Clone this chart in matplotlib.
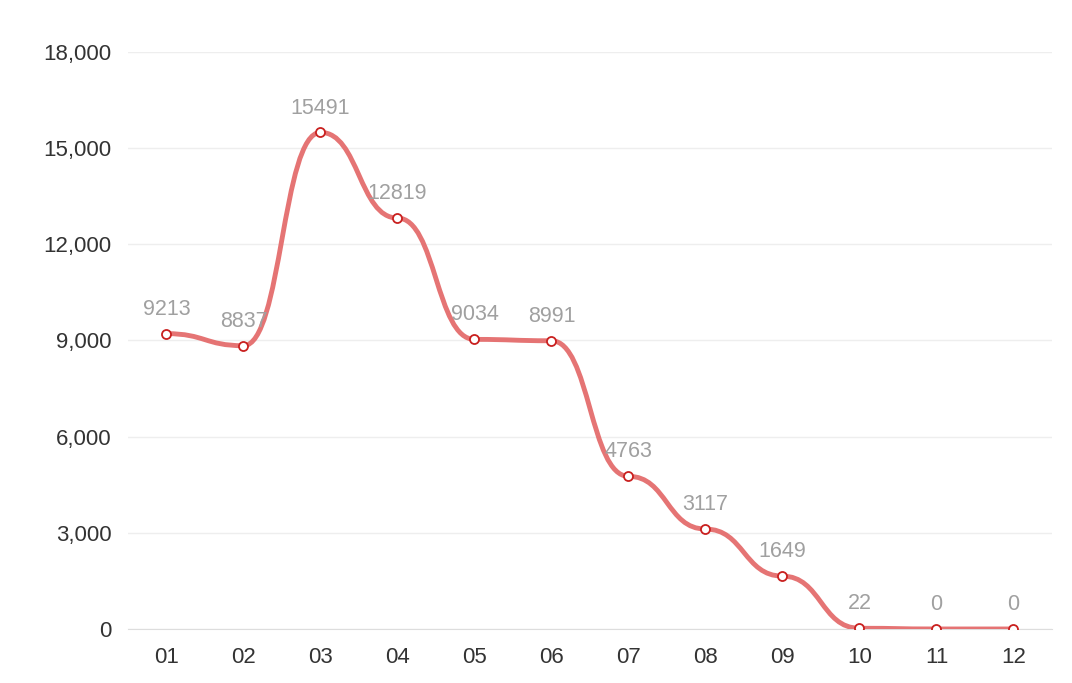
import numpy as np
import matplotlib
matplotlib.use('Agg')
import matplotlib.pyplot as plt
from matplotlib.path import Path
from matplotlib.patches import PathPatch
from matplotlib.ticker import FuncFormatter

plt.rcParams['font.family'] = ['Liberation Sans', 'DejaVu Sans']

months = ['01', '02', '03', '04', '05', '06', '07', '08', '09', '10', '11', '12']
values = [9213, 8837, 15491, 12819, 9034, 8991, 4763, 3117, 1649, 22, 0, 0]

fig = plt.figure(figsize=(10.72, 6.83), dpi=100)
ax = fig.add_axes([0.1194, 0.0791, 0.8619, 0.8448])

x = np.arange(len(values), dtype=float)
y = np.array(values, dtype=float)

ax.set_xlim(-0.5, len(values) - 0.5)
ax.set_ylim(0, 18000)

# smooth curve with horizontal tangents at each point (monotone in x)
smooth = 0.5
n = len(x)
verts = [(x[0], y[0])]
codes = [Path.MOVETO]
for i in range(n - 1):
    dx = x[i + 1] - x[i]
    c1 = (x[i] + dx * smooth, y[i])
    c2 = (x[i + 1] - dx * smooth, y[i + 1])
    verts += [c1, c2, (x[i + 1], y[i + 1])]
    codes += [Path.CURVE4] * 3
ax.add_patch(PathPatch(Path(verts, codes), facecolor='none',
                       edgecolor='#e46c6c', lw=3.5, alpha=0.95, zorder=3,
                       capstyle='round', joinstyle='round'))

ax.plot(x, y, ls='none', marker='o', ms=6.5, mfc='white', mec='#c9201f',
        mew=1.3, zorder=4)

for xi, yi in zip(x, values):
    ax.annotate(str(yi), (xi, yi), xytext=(0, 10), textcoords='offset points',
                ha='center', va='bottom', fontsize=15.5, color='#a0a0a0')

ax.set_yticks(np.arange(0, 18001, 3000))
ax.yaxis.set_major_formatter(FuncFormatter(lambda v, p: '{:,}'.format(int(v))))
ax.set_xticks(x)
ax.set_xticklabels(months)
ax.grid(axis='y', color='#eeeeee', lw=1)
ax.set_axisbelow(True)
for sp in ['top', 'right', 'left']:
    ax.spines[sp].set_visible(False)
ax.spines['bottom'].set_color('#dddddd')
ax.tick_params(axis='both', length=0, labelsize=16, colors='#333333')
ax.tick_params(axis='y', pad=12)
ax.tick_params(axis='x', pad=13)

plt.savefig('out.png', format='png')
